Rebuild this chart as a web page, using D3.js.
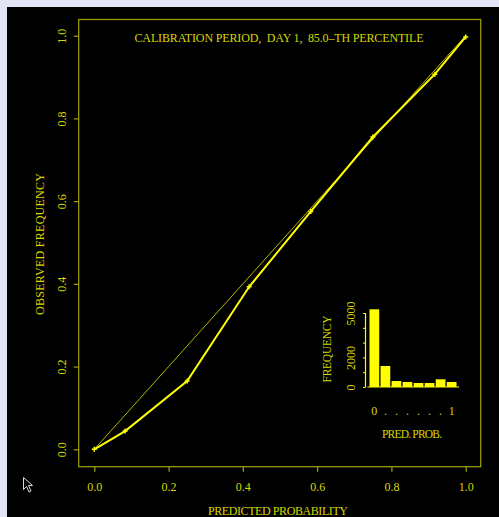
<!DOCTYPE html>
<html lang="en">
<head>
    <meta charset="UTF-8">
    <title>Calibration</title>
    <script src="https://cdn.jsdelivr.net/npm/d3@7"></script>
    <style>
        body { margin: 0; background: #e3e5f7; }
        text { font-family: "Liberation Serif", "DejaVu Serif", serif; }
    </style>
</head>
<body>
    <div class="chart"></div>
</body>
<script>
    // calibration curve
    const predProb = [0, 0.083, 0.25, 0.417, 0.583, 0.75, 0.917, 1.0]
    const obsFreq = [0, 0.044, 0.165, 0.393, 0.575, 0.755, 0.907, 0.997]
    const tickValues = [0, 0.2, 0.4, 0.6, 0.8, 1.0]
    // inset histogram
    const histCounts = [5250, 1420, 405, 340, 270, 270, 520, 340]
    const histLabels = ['0', '.', '.', '.', '.', '.', '.', '1']
    const histTicks = [0, 1000, 2000, 3000, 4000, 5000]
    const histTickLabels = [0, 2000, 5000]

    const width = 499
    const height = 517
    const textColor = '#d6d600'
    const boxColor = '#a3a300'
    const lineColor = '#ffff00'

    const svg = d3.select('.chart')
        .append('svg')
        .attr('width', width)
        .attr('height', height)
        .style('display', 'block')

    svg.append('rect')
        .attr('x', 7).attr('y', 7)
        .attr('width', width - 7).attr('height', height - 7)
        .attr('fill', '#000')

    const box = { left: 78.7, top: 19.5, right: 480.7, bottom: 466.7 }
    const xScale = d3.scaleLinear().domain([0, 1]).range([94.3, 465.7])
    const yScale = d3.scaleLinear().domain([0, 1]).range([449.3, 35.7])

    svg.append('rect')
        .attr('x', box.left).attr('y', box.top)
        .attr('width', box.right - box.left).attr('height', box.bottom - box.top)
        .attr('fill', 'none')
        .attr('stroke', boxColor)
        .attr('stroke-width', 1.2)

    const xAxis = d3.axisBottom(xScale)
        .tickValues(tickValues)
        .tickSize(5)
        .tickFormat(d3.format('.1f'))
    const gx = svg.append('g')
        .attr('transform', `translate(0, ${box.bottom})`)
        .call(xAxis)
    gx.select('.domain').remove()
    gx.selectAll('line').attr('stroke', boxColor).attr('stroke-width', 1.2)
    gx.selectAll('text')
        .attr('fill', textColor)
        .attr('font-size', '12px')
        .attr('y', 24.5)
        .attr('dy', 0)

    const yAxis = d3.axisLeft(yScale)
        .tickValues(tickValues)
        .tickSize(5)
        .tickFormat(d3.format('.1f'))
    const gy = svg.append('g')
        .attr('transform', `translate(${box.left}, 0)`)
        .call(yAxis)
    gy.select('.domain').remove()
    gy.selectAll('line').attr('stroke', boxColor).attr('stroke-width', 1.2)
    gy.selectAll('text')
        .attr('fill', textColor)
        .attr('font-size', '12px')
        .attr('x', 0)
        .attr('dy', 0)
        .attr('text-anchor', 'middle')
        .attr('transform', 'translate(-12.5, 0) rotate(-90)')

    // title and labels
    svg.append('text')
        .attr('x', 279).attr('y', 41.5)
        .attr('text-anchor', 'middle')
        .attr('fill', textColor)
        .attr('font-size', '12px')
        .attr('textLength', 289)
        .attr('xml:space', 'preserve')
        .text('CALIBRATION PERIOD,  DAY 1,  85.0\u2013TH PERCENTILE')

    svg.append('text')
        .attr('x', 278).attr('y', 515)
        .attr('text-anchor', 'middle')
        .attr('fill', textColor)
        .attr('font-size', '12px')
        .attr('textLength', 140)
        .text('PREDICTED PROBABILITY')

    svg.append('text')
        .attr('transform', 'translate(43.5, 244) rotate(-90)')
        .attr('text-anchor', 'middle')
        .attr('fill', textColor)
        .attr('font-size', '12px')
        .attr('textLength', 142)
        .text('OBSERVED FREQUENCY')

    // diagonal
    svg.append('line')
        .attr('x1', xScale(0)).attr('y1', yScale(0))
        .attr('x2', xScale(1)).attr('y2', yScale(1))
        .attr('stroke', '#c8c800')
        .attr('stroke-width', 0.9)

    const pts = predProb.map((p, i) => [p, obsFreq[i]])
    const line = d3.line().x(d => xScale(d[0])).y(d => yScale(d[1]))
    svg.append('path')
        .datum(pts)
        .attr('d', line)
        .attr('fill', 'none')
        .attr('stroke', lineColor)
        .attr('stroke-width', 2)

    svg.selectAll('.mark')
        .data(pts)
        .enter()
        .append('path')
        .attr('class', 'mark')
        .attr('d', d => {
            const x = xScale(d[0]), y = yScale(d[1])
            return `M${x - 2.5},${y}H${x + 2.5}M${x},${y - 2.5}V${y + 2.5}`
        })
        .attr('stroke', lineColor)
        .attr('stroke-width', 1.5)

    // inset histogram
    const hx = d3.scaleBand().domain(d3.range(histCounts.length)).range([369.5, 456.5]).paddingInner(0.12)
    const hy = d3.scaleLinear().domain([0, 5000]).range([387, 313])

    svg.selectAll('.bar')
        .data(histCounts)
        .enter()
        .append('rect')
        .attr('class', 'bar')
        .attr('x', (d, i) => hx(i))
        .attr('width', hx.bandwidth())
        .attr('y', d => hy(d))
        .attr('height', d => hy(0) - hy(d))
        .attr('fill', lineColor)

    svg.append('line')
        .attr('x1', 367.5).attr('x2', 459)
        .attr('y1', hy(0)).attr('y2', hy(0))
        .attr('stroke', lineColor)
        .attr('stroke-width', 1.2)

    const hyAxis = d3.axisLeft(hy)
        .tickValues(histTicks)
        .tickSize(2.5)
        .tickFormat(d => histTickLabels.includes(d) ? d : '')
    const ghy = svg.append('g')
        .attr('transform', 'translate(365.5, 0)')
        .call(hyAxis)
    ghy.select('.domain').attr('stroke', lineColor).attr('stroke-width', 1.2)
        .attr('d', `M0,${hy(5000)}V${hy(0)}`)
    ghy.selectAll('line').attr('stroke', lineColor)
    ghy.selectAll('text')
        .attr('fill', textColor)
        .attr('font-size', '12px')
        .attr('x', 0)
        .attr('dy', 0)
        .attr('text-anchor', 'middle')
        .attr('transform', 'translate(-10.5, 0) rotate(-90)')

    const hxAxis = d3.axisBottom(hx)
        .tickSize(0)
        .tickFormat(i => histLabels[i])
    const ghx = svg.append('g')
        .attr('transform', `translate(0, ${hy(0)})`)
        .call(hxAxis)
    ghx.select('.domain').remove()
    ghx.selectAll('text')
        .attr('fill', textColor)
        .attr('font-size', '12px')
        .attr('y', 28)
        .attr('dy', 0)

    svg.append('text')
        .attr('x', 412).attr('y', 438)
        .attr('text-anchor', 'middle')
        .attr('fill', textColor)
        .attr('font-size', '11.5px')
        .attr('textLength', 60)
        .text('PRED. PROB.')

    svg.append('text')
        .attr('transform', 'translate(330.5, 349) rotate(-90)')
        .attr('text-anchor', 'middle')
        .attr('fill', textColor)
        .attr('font-size', '11.5px')
        .attr('textLength', 67)
        .text('FREQUENCY')

    // mouse pointer seen in the capture
    svg.append('path')
        .attr('d', 'M23.5,477.5V489.5L26.5,486.5L29,492L31,491L28.5,485.5H32.5Z')
        .attr('fill', '#000')
        .attr('stroke', '#d8d8d8')
        .attr('stroke-width', 1)
</script>
</html>
